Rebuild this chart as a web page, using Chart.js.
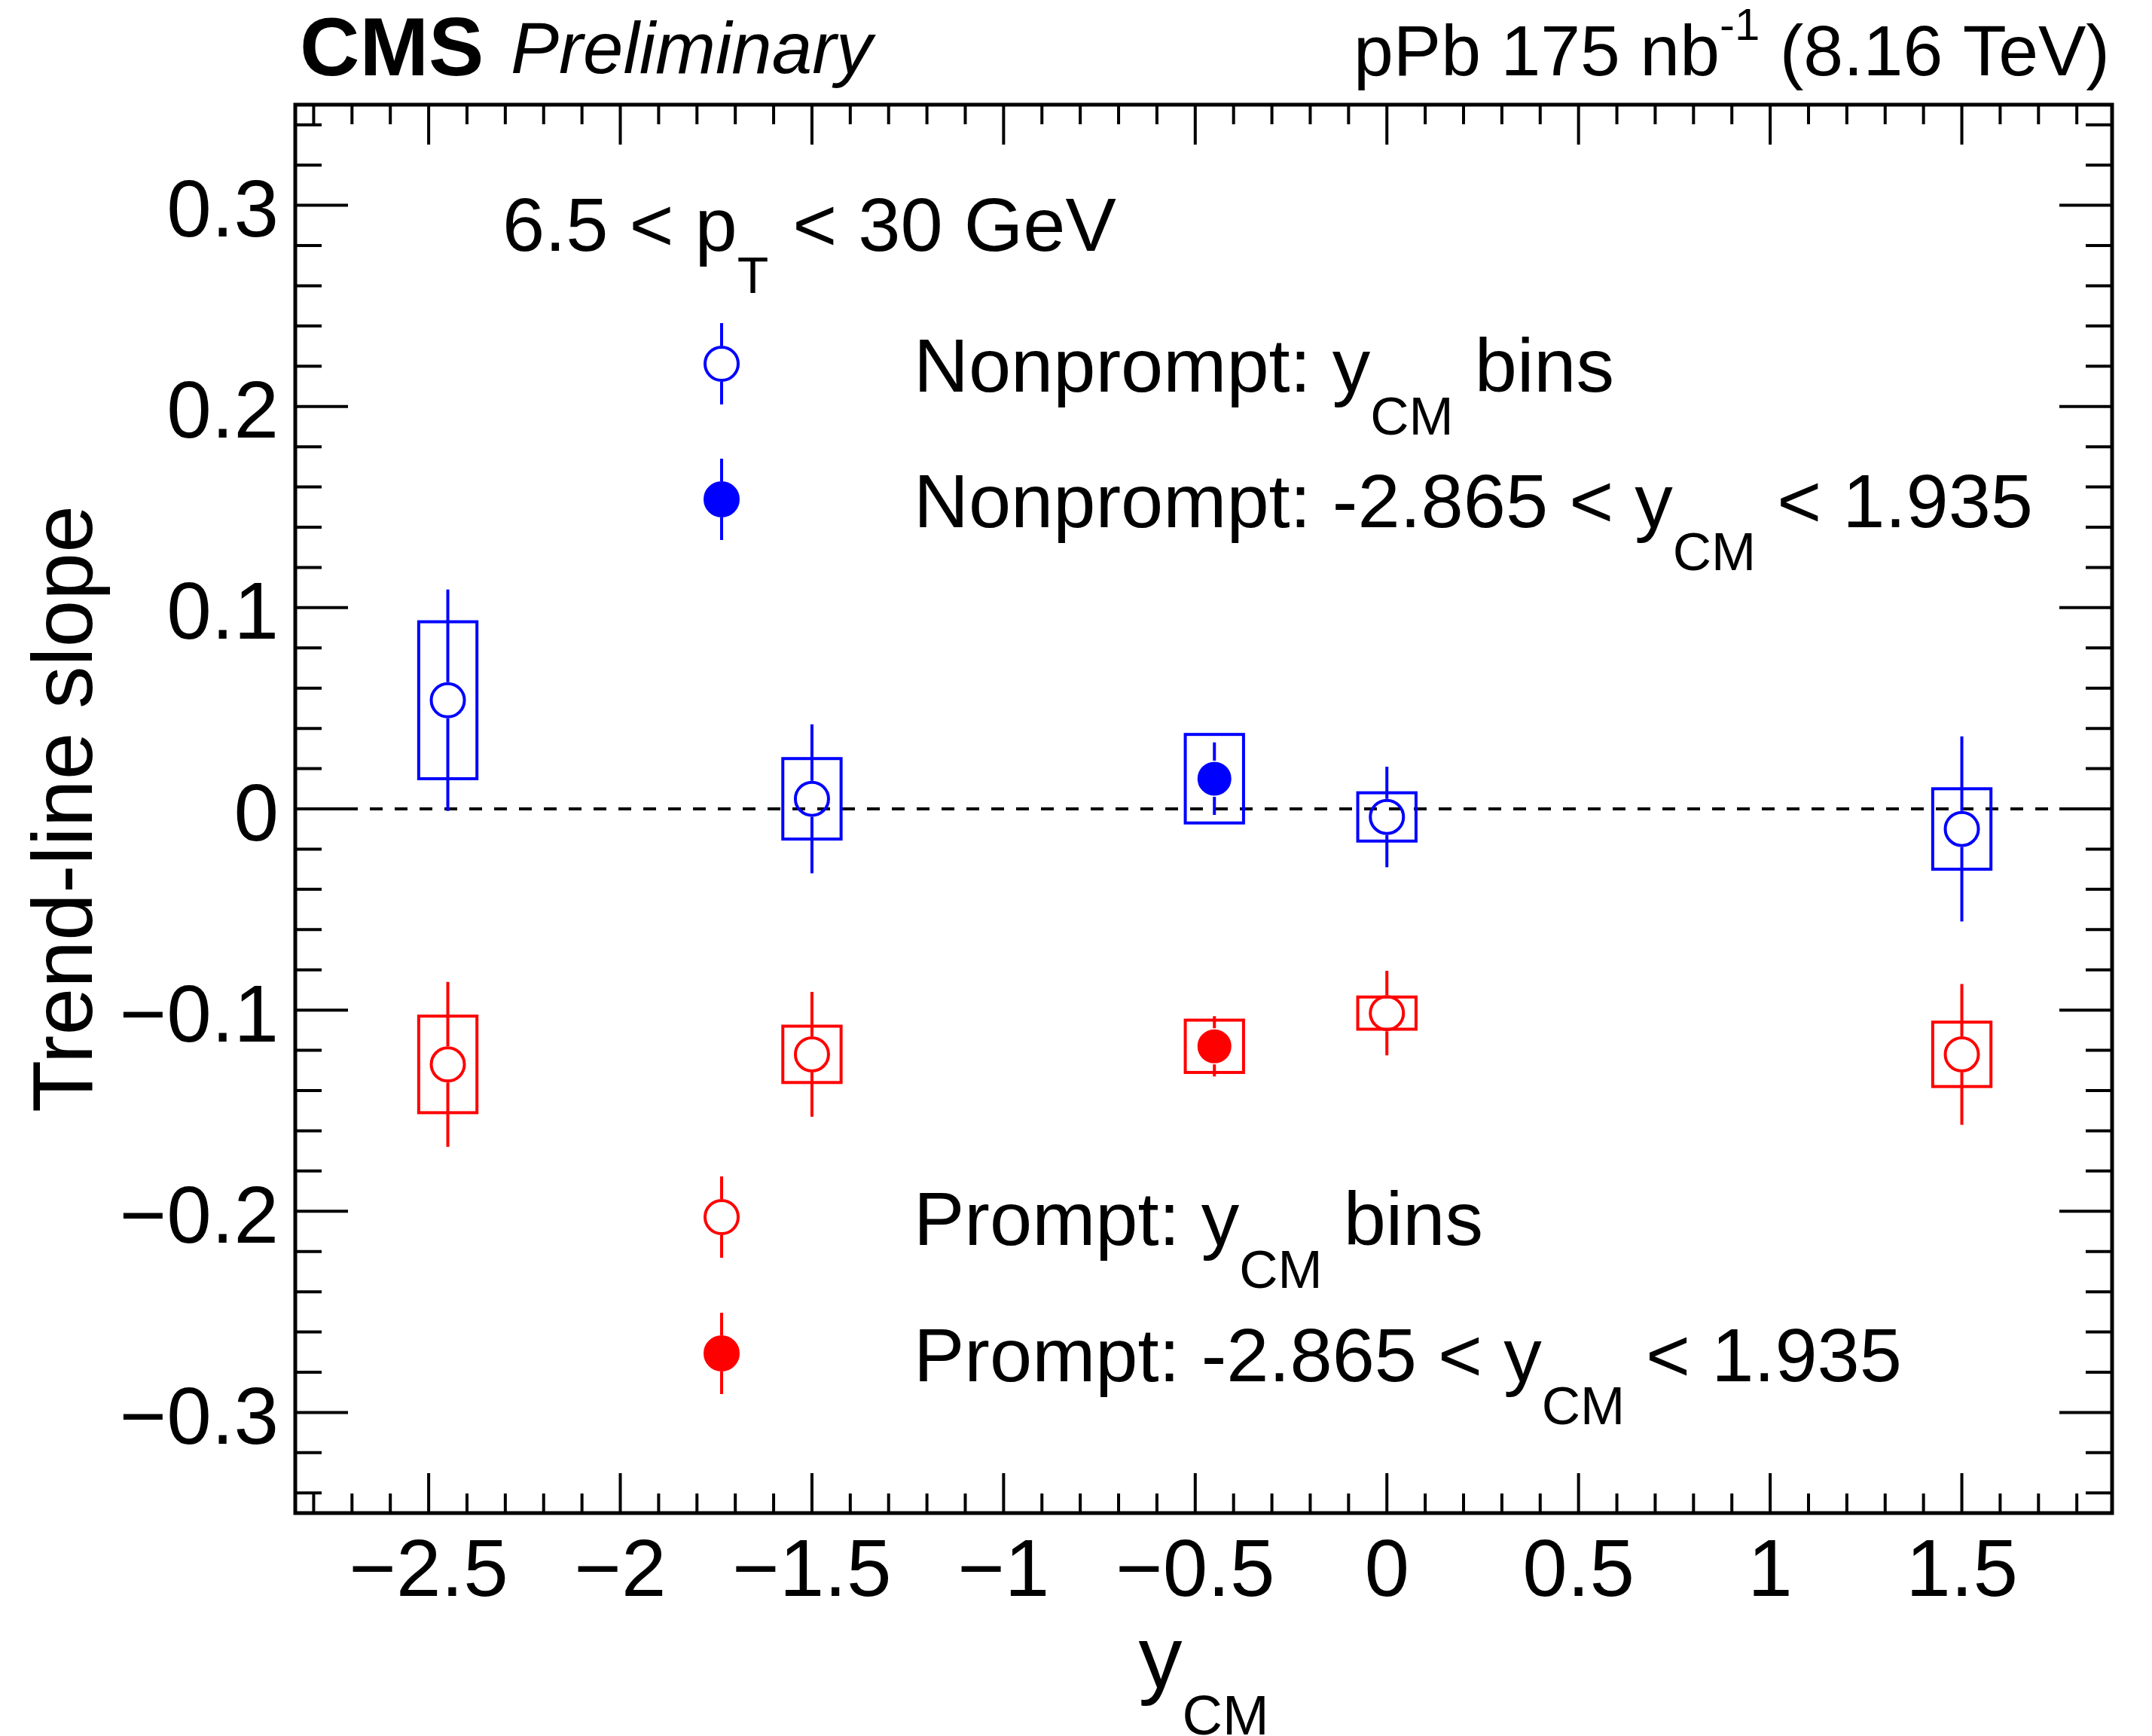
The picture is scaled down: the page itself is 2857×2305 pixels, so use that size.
<!DOCTYPE html>
<html>
<head>
<meta charset="utf-8">
<script src="https://cdn.jsdelivr.net/npm/chart.js@4.4.0/dist/chart.umd.min.js"></script>
<style>
  html, body { margin: 0; padding: 0; background: #fff; }
  canvas { display: block; }
</style>
</head>
<body>
<canvas id="myChart" width="2857" height="2305"></canvas>
<script>
// y_CM bin centres and the integrated point
const binX = [-2.45, -1.5, 0.0, 1.5];
const intX = [-0.45];

// nonprompt
const npBins = [0.054, 0.005, -0.004, -0.010];
const npBinsStat = [0.055, 0.037, 0.025, 0.046];
const npBinsSyst = [0.039, 0.020, 0.012, 0.020];
const npInt = [0.015];
const npIntStat = [0.018];
const npIntSyst = [0.022];

// prompt
const pBins = [-0.127, -0.122, -0.1015, -0.122];
const pBinsStat = [0.041, 0.031, 0.021, 0.035];
const pBinsSyst = [0.024, 0.014, 0.008, 0.016];
const pInt = [-0.118];
const pIntStat = [0.015];
const pIntSyst = [0.013];

// axes
const xTicks = [-2.5, -2, -1.5, -1, -0.5, 0, 0.5, 1, 1.5];
const yTicks = [-0.3, -0.2, -0.1, 0, 0.1, 0.2, 0.3];
const xMin = -2.848, xMax = 1.892;
const yMin = -0.35, yMax = 0.35;
const boxHalfWidth = 0.076;

const FONT = '"Liberation Sans", Arial, Helvetica, sans-serif';
const BLUE = '#0000ff';
const RED = '#ff0000';

function pts(xs, ys) {
  return xs.map((x, i) => ({x: x, y: ys[i]}));
}

function fmt(v) {
  if (v === 0) return '0';
  return (v < 0 ? '\u2212' : '') + Math.abs(v);
}

// text with sub/superscripts, returns end x
function drawParts(ctx, x, base, parts) {
  parts.forEach(p => {
    ctx.font = (p.style || '') + ' ' + p.size + 'px ' + FONT;
    ctx.fillText(p.t, x, base + (p.dy || 0));
    x += ctx.measureText(p.t).width + (p.gap || 0);
  });
  return x;
}
function partsWidth(ctx, parts) {
  let w = 0;
  parts.forEach(p => {
    ctx.font = (p.style || '') + ' ' + p.size + 'px ' + FONT;
    w += ctx.measureText(p.t).width + (p.gap || 0);
  });
  return w;
}

function drawMarker(ctx, x, y, color, filled, barHalf) {
  ctx.strokeStyle = color;
  ctx.fillStyle = color;
  ctx.lineWidth = 4;
  ctx.beginPath();
  ctx.moveTo(x, y - barHalf); ctx.lineTo(x, y - 24);
  ctx.moveTo(x, y + 24); ctx.lineTo(x, y + barHalf);
  ctx.stroke();
  ctx.beginPath();
  ctx.arc(x, y, 22, 0, Math.PI * 2);
  if (filled) ctx.fill();
  ctx.stroke();
}

// boxes (syst), error bars (stat) and the dashed zero line
const errorPlugin = {
  id: 'errors',
  beforeDatasetsDraw(chart) {
    const {ctx, chartArea: a, scales: {x, y}} = chart;
    ctx.save();
    ctx.beginPath();
    ctx.rect(a.left, a.top, a.right - a.left, a.bottom - a.top);
    ctx.clip();

    const y0 = y.getPixelForValue(0);
    ctx.setLineDash([17, 16]);
    ctx.lineWidth = 4;
    ctx.strokeStyle = '#000';
    ctx.beginPath();
    ctx.moveTo(a.left, y0);
    ctx.lineTo(a.right, y0);
    ctx.stroke();
    ctx.setLineDash([]);

    chart.data.datasets.forEach(ds => {
      ctx.strokeStyle = ds.borderColor;
      ctx.lineWidth = 4;
      ds.data.forEach((p, i) => {
        const px = x.getPixelForValue(p.x);
        const l = x.getPixelForValue(p.x - boxHalfWidth);
        const r = x.getPixelForValue(p.x + boxHalfWidth);
        const t = y.getPixelForValue(p.y + ds.syst[i]);
        const b = y.getPixelForValue(p.y - ds.syst[i]);
        ctx.strokeRect(l, t, r - l, b - t);

        const py = y.getPixelForValue(p.y);
        const rad = 24;
        const et = y.getPixelForValue(p.y + ds.stat[i]);
        const eb = y.getPixelForValue(p.y - ds.stat[i]);
        ctx.beginPath();
        if (et < py - rad) { ctx.moveTo(px, et); ctx.lineTo(px, py - rad); }
        if (eb > py + rad) { ctx.moveTo(px, py + rad); ctx.lineTo(px, eb); }
        ctx.stroke();
      });
    });
    ctx.restore();
  }
};

// frame, inward ticks on all four sides, titles, legend
const framePlugin = {
  id: 'frame',
  afterDraw(chart) {
    const {ctx, chartArea: a, scales: {x, y}} = chart;
    ctx.save();
    ctx.strokeStyle = '#000';
    ctx.fillStyle = '#000';

    ctx.lineWidth = 4;
    ctx.beginPath();
    // x ticks every 0.1, major on xTicks
    for (let k = Math.ceil(xMin * 10); k <= Math.floor(xMax * 10); k++) {
      const v = k / 10;
      const major = xTicks.some(t => Math.abs(t - v) < 1e-6);
      const len = major ? 53 : 26;
      const px = x.getPixelForValue(v);
      ctx.moveTo(px, a.bottom); ctx.lineTo(px, a.bottom - len);
      ctx.moveTo(px, a.top); ctx.lineTo(px, a.top + len);
    }
    // y ticks every 0.02, major on yTicks
    for (let k = Math.ceil(yMin * 50); k <= Math.floor(yMax * 50); k++) {
      const v = k / 50;
      const major = yTicks.some(t => Math.abs(t - v) < 1e-6);
      const len = major ? 70 : 35;
      const py = y.getPixelForValue(v);
      ctx.moveTo(a.left, py); ctx.lineTo(a.left + len, py);
      ctx.moveTo(a.right, py); ctx.lineTo(a.right - len, py);
    }
    ctx.stroke();

    ctx.lineWidth = 5;
    ctx.strokeRect(a.left, a.top, a.right - a.left, a.bottom - a.top);

    // header
    ctx.textAlign = 'left';
    ctx.textBaseline = 'alphabetic';
    drawParts(ctx, 398, 100, [{t: 'CMS', size: 110, style: 'bold'}]);
    drawParts(ctx, 678, 97, [{t: 'Preliminary', size: 96, style: 'italic'}]);
    const lumi = [
      {t: 'pPb 175 nb', size: 95},
      {t: '-1', size: 60, dy: -47},
      {t: ' (8.16 TeV)', size: 95}
    ];
    drawParts(ctx, 2801 - partsWidth(ctx, lumi), 100, lumi);

    // axis titles
    const xTitle = [{t: 'y', size: 116}, {t: 'CM', size: 74, dy: 62}];
    drawParts(ctx, (a.left + a.right) / 2 - partsWidth(ctx, xTitle) / 2, 2241, xTitle);

    ctx.save();
    ctx.translate(122, (a.top + a.bottom) / 2);
    ctx.rotate(-Math.PI / 2);
    ctx.textAlign = 'center';
    ctx.font = '113px ' + FONT;
    ctx.fillText('Trend-line slope', 0, 0);
    ctx.restore();

    // kinematic label
    drawParts(ctx, 667, 333, [
      {t: '6.5 < p', size: 101},
      {t: 'T', size: 68, dy: 56, gap: 4},
      {t: ' < 30 GeV', size: 101}
    ]);

    // legend
    const mx = 958;
    const sub = (t) => ({t: t, size: 71, dy: 57});
    const legend = [
      {y: 483, color: BLUE, filled: false,
        parts: [{t: 'Nonprompt: y', size: 101}, sub('CM'), {t: ' bins', size: 101}]},
      {y: 663, color: BLUE, filled: true,
        parts: [{t: 'Nonprompt: -2.865 < y', size: 101}, sub('CM'), {t: ' < 1.935', size: 101}]},
      {y: 1616, color: RED, filled: false,
        parts: [{t: 'Prompt: y', size: 101}, sub('CM'), {t: ' bins', size: 101}]},
      {y: 1797, color: RED, filled: true,
        parts: [{t: 'Prompt: -2.865 < y', size: 101}, sub('CM'), {t: ' < 1.935', size: 101}]}
    ];
    legend.forEach(e => {
      drawMarker(ctx, mx, e.y, e.color, e.filled, 54);
      ctx.fillStyle = '#000';
      drawParts(ctx, 1213, e.y + 37, e.parts);
    });

    ctx.restore();
  }
};

const ctx = document.getElementById('myChart');
new Chart(ctx, {
  type: 'scatter',
  data: {
    datasets: [
      {
        label: 'Nonprompt: y_CM bins',
        data: pts(binX, npBins), stat: npBinsStat, syst: npBinsSyst,
        borderColor: BLUE, backgroundColor: 'rgba(0,0,0,0)',
        pointRadius: 22, borderWidth: 4, pointStyle: 'circle'
      },
      {
        label: 'Nonprompt: -2.865 < y_CM < 1.935',
        data: pts(intX, npInt), stat: npIntStat, syst: npIntSyst,
        borderColor: BLUE, backgroundColor: BLUE,
        pointRadius: 21.5, borderWidth: 2, pointStyle: 'circle'
      },
      {
        label: 'Prompt: y_CM bins',
        data: pts(binX, pBins), stat: pBinsStat, syst: pBinsSyst,
        borderColor: RED, backgroundColor: 'rgba(0,0,0,0)',
        pointRadius: 22, borderWidth: 4, pointStyle: 'circle'
      },
      {
        label: 'Prompt: -2.865 < y_CM < 1.935',
        data: pts(intX, pInt), stat: pIntStat, syst: pIntSyst,
        borderColor: RED, backgroundColor: RED,
        pointRadius: 21.5, borderWidth: 2, pointStyle: 'circle'
      }
    ]
  },
  options: {
    responsive: false,
    devicePixelRatio: 1,
    animation: false,
    events: [],
    layout: { padding: { top: 139, right: 53, left: 0, bottom: 0 } },
    plugins: {
      legend: { display: false },
      tooltip: { enabled: false }
    },
    scales: {
      x: {
        type: 'linear',
        min: xMin, max: xMax,
        grid: { display: false, drawTicks: false },
        border: { display: false },
        afterBuildTicks: (s) => { s.ticks = xTicks.map(v => ({value: v})); },
        afterFit: (s) => { s.height = 296; },
        ticks: {
          color: '#000',
          font: { family: FONT, size: 107 },
          padding: 16,
          maxRotation: 0,
          autoSkip: false,
          callback: (v) => fmt(v)
        }
      },
      y: {
        type: 'linear',
        min: yMin, max: yMax,
        grid: { display: false, drawTicks: false },
        border: { display: false },
        afterBuildTicks: (s) => { s.ticks = yTicks.map(v => ({value: v})); },
        afterFit: (s) => { s.width = 392; },
        ticks: {
          color: '#000',
          font: { family: FONT, size: 107 },
          padding: 22,
          labelOffset: 12,
          autoSkip: false,
          callback: (v) => fmt(v)
        }
      }
    }
  },
  plugins: [errorPlugin, framePlugin]
});
</script>
</body>
</html>
